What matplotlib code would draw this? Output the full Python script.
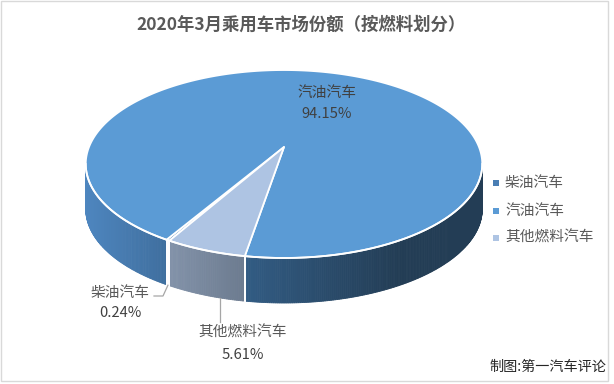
import numpy as np
import matplotlib
matplotlib.use("Agg")
import matplotlib.pyplot as plt
from matplotlib.patches import Polygon, Rectangle
from matplotlib.colors import to_rgb

plt.rcParams['font.family'] = ['Noto Sans CJK SC', 'DejaVu Sans']

# ---- data ----
title = "2020年3月乘用车市场份额（按燃料划分）"
categories = ["柴油汽车", "汽油汽车", "其他燃料汽车"]
shares = [0.24, 94.15, 5.61]
pct_labels = ["0.24%", "94.15%", "5.61%"]
credit = "制图:第一汽车评论"

# ---- styles ----
top_colors = ["#4A7DB4", "#5B9BD5", "#AEC4E3"]
legend_colors = ["#4A7EB4", "#5B9BD5", "#AEC4E3"]
side_ramps = {  # (color at left x, color at right x)
    0: ("#4676AC", "#4373A8"),
    1: ("#4E86BF", "#223B53"),
    2: ("#8393AA", "#6C7B8F"),
}
text_color = "#595959"

W, H = 614, 384
fig = plt.figure(figsize=(W / 100, H / 100), dpi=100)
ax = fig.add_axes([0, 0, 1, 1])
ax.set_xlim(0, W)
ax.set_ylim(H, 0)
ax.axis("off")

# projection (perspective 3D pie)
cx, cy = 284, 147
A, B, k = 195.0, 90.9, 0.181
depth = 45.0
start = 240.3  # degrees, slices go clockwise


def proj(theta, z=0.0):
    t = np.radians(theta)
    X, Y = np.cos(t), np.sin(t)
    w = 1 + k * Y
    return cx + A * X / w, cy - B * Y / w + depth * z


fr = np.array(shares) / np.sum(shares)
ends = start - 360 * np.cumsum(fr)
starts = np.concatenate([[start], ends[:-1]])

vis_lo = 180 + np.degrees(np.arcsin(k))
vis_hi = 360 - np.degrees(np.arcsin(k))


def norm_range(a0, a1):
    lo, hi = a1, a0
    pieces = []
    for off in (-720, -360, 0, 360, 720):
        l, h = max(lo + off, vis_lo), min(hi + off, vis_hi)
        if h > l:
            pieces.append((l, h))
    return pieces


x_left = proj(vis_lo)[0]
x_right = 400.0

for i in range(len(shares)):
    for (l, h) in norm_range(starts[i], ends[i]):
        n = max(2, int((h - l) * 2))
        th = np.linspace(l, h, n + 1)
        seg_x = [proj(t)[0] for t in th]
        if i == 1:
            if l < 230:  # left part
                c0, c1 = "#4E86BF", "#3F6F9F"
                xa, xb = x_left, proj(h)[0]
            else:
                c0, c1 = "#325C84", "#233D55"
                xa, xb = proj(l)[0], x_right
        else:
            c0, c1 = side_ramps[i]
            xa, xb = min(seg_x), max(seg_x)
        c0, c1 = np.array(to_rgb(c0)), np.array(to_rgb(c1))
        for j in range(n):
            p1 = proj(th[j]); p2 = proj(th[j + 1])
            q1 = proj(th[j], 1); q2 = proj(th[j + 1], 1)
            xm = 0.5 * (p1[0] + p2[0])
            f = np.clip((xm - xa) / (xb - xa + 1e-9), 0, 1)
            col = c0 * (1 - f) + c1 * f
            ax.add_patch(Polygon([p1, p2, q2, q1], closed=True, facecolor=col,
                                 edgecolor=col, linewidth=0.6, zorder=2))
        for t in (l, h):
            if vis_lo + 0.5 < t < vis_hi - 0.5:
                a, b = proj(t), proj(t, 1)
                ax.plot([a[0], b[0]], [a[1], b[1]], color="white", lw=1.3, zorder=3)

# top faces
for i in range(len(shares)):
    th = np.linspace(ends[i], starts[i], max(3, int(abs(starts[i] - ends[i]) * 2)))
    pts = [(cx, cy)] + [proj(t) for t in th]
    ax.add_patch(Polygon(pts, closed=True, facecolor=top_colors[i],
                         edgecolor="white", linewidth=1.3, zorder=4,
                         joinstyle="round"))

# white rim line between top and side (front)
th = np.linspace(vis_lo, vis_hi, 200)
rim = np.array([proj(t) for t in th])
ax.plot(rim[:, 0], rim[:, 1], color="white", lw=1.3, zorder=5)

# labels
fs = 10.6
ax.text(327, 93, categories[1], ha="center", va="center", fontsize=fs, color="#404040", zorder=6)
ax.text(327, 114, pct_labels[1], ha="center", va="center", fontsize=fs, color="#404040", zorder=6)
ax.text(120, 293, categories[0], ha="center", va="center", fontsize=fs, color=text_color, zorder=6)
ax.text(120, 313, pct_labels[0], ha="center", va="center", fontsize=fs, color="#404040", zorder=6)
ax.text(243, 333, categories[2], ha="center", va="center", fontsize=fs, color=text_color, zorder=6)
ax.text(243, 355, pct_labels[2], ha="center", va="center", fontsize=fs, color="#404040", zorder=6)

# leader lines
d0 = proj(0.5 * (starts[0] + ends[0]), 1)
ax.plot([154, 163, d0[0]], [296, 296, d0[1]], color="#A6A6A6", lw=0.9, zorder=6)
o_mid = proj(0.5 * (starts[2] + ends[2]) + 4, 1)
ax.plot([o_mid[0], o_mid[0]], [o_mid[1], 322], color="#A6A6A6", lw=0.9, zorder=6)

# title
ax.text(301, 25, title, ha="center", va="center", fontsize=12.5, fontweight="bold",
        color=text_color, zorder=6)

# legend
for i, name in enumerate(categories):
    y = 183 + i * 27.5
    ax.add_patch(Rectangle((493, y - 3), 6, 6, facecolor=legend_colors[i], edgecolor="none"))
    ax.text(505, y, name, ha="left", va="center", fontsize=fs, color=text_color)

# credit
ax.text(606, 367, credit, ha="right", va="center", fontsize=10.2, color="#262626")

# chart border
ax.add_patch(Rectangle((1, 1), 607, 380, facecolor="none", edgecolor="#D9D9D9", lw=1.0, zorder=7))

fig.savefig("out.png", dpi=100)
